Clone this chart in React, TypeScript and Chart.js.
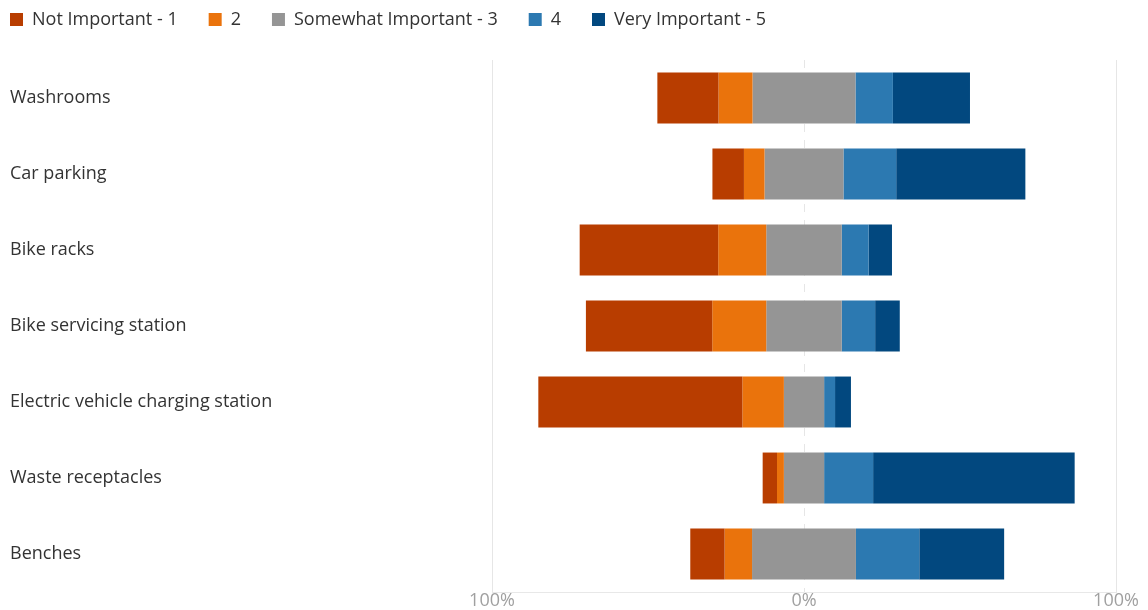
import React, { useEffect, useRef } from "react";
import { Chart, registerables } from "chart.js";

Chart.register(...registerables);

// Survey categories (top to bottom)
const categories = [
  "Washrooms",
  "Car parking",
  "Bike racks",
  "Bike servicing station",
  "Electric vehicle charging station",
  "Waste receptacles",
  "Benches",
];

// Share of responses (%) for each importance rating
const notImportant = [19.6, 10.1, 44.4, 40.5, 65.4, 4.6, 11.0];
const ratingTwo = [10.9, 6.6, 15.4, 17.3, 13.3, 2.2, 8.8];
const somewhatImportant = [33.0, 25.3, 24.2, 24.2, 12.9, 12.9, 33.3];
const ratingFour = [12.0, 16.9, 8.6, 10.7, 3.5, 15.7, 20.3];
const veryImportant = [24.7, 41.4, 7.5, 7.9, 5.1, 64.6, 27.2];

const seriesLabels = ["Not Important - 1", "2", "Somewhat Important - 3", "4", "Very Important - 5"];
const seriesColors = ["#B83D00", "#EA730C", "#959595", "#2C79B1", "#02487F"];

const xTicks = [-100, 0, 100];

const FONT = "'Open Sans', 'Noto Sans', sans-serif";
const LEGEND_PAD = 31;

// Keeps the legend as a fixed-height strip at the top-left of the canvas.
const legendPlacement = {
  id: "legendPlacement",
  beforeLayout(chart: any) {
    const lg = chart.legend;
    if (lg && !lg._fixedFit) {
      const fit = lg.fit.bind(lg);
      lg.fit = function () {
        fit();
        this.height = 60;
      };
      lg._fixedFit = true;
    }
  },
  afterLayout(chart: any) {
    const lg = chart.legend;
    if (!lg) return;
    lg.left = 10 - LEGEND_PAD;
    lg.top = 10.5 - LEGEND_PAD;
  },
};

// Diverging segments: the neutral rating is centred on zero, lower ratings
// extend to the left of it and higher ratings to the right.
function divergingRanges(): [number, number][][] {
  const one: [number, number][] = [];
  const two: [number, number][] = [];
  const three: [number, number][] = [];
  const four: [number, number][] = [];
  const five: [number, number][] = [];
  categories.forEach((_, i) => {
    const half = somewhatImportant[i] / 2;
    two.push([-half - ratingTwo[i], -half]);
    one.push([-half - ratingTwo[i] - notImportant[i], -half - ratingTwo[i]]);
    three.push([-half, half]);
    four.push([half, half + ratingFour[i]]);
    five.push([half + ratingFour[i], half + ratingFour[i] + veryImportant[i]]);
  });
  return [one, two, three, four, five];
}

export default function App() {
  const canvasRef = useRef<HTMLCanvasElement | null>(null);

  useEffect(() => {
    if (!canvasRef.current) return;

    const ranges = divergingRanges();
    const datasets = seriesLabels.map((label, k) => ({
      label,
      data: ranges[k],
      backgroundColor: seriesColors[k],
      borderWidth: 0,
      grouped: false,
      barPercentage: 0.67,
      categoryPercentage: 1,
    }));

    const chart = new Chart(canvasRef.current, {
      type: "bar",
      data: { labels: categories, datasets: datasets as any },
      plugins: [legendPlacement],
      options: {
        indexAxis: "y",
        animation: false,
        responsive: false,
        layout: { padding: { left: 10, right: 32, top: 0, bottom: 0 } },
        plugins: {
          tooltip: { enabled: false },
          legend: {
            position: "top",
            align: "start",
            labels: {
              boxWidth: 13,
              boxHeight: 13,
              padding: LEGEND_PAD,
              color: "#333333",
              font: { family: FONT, size: 18 },
            },
          },
        },
        scales: {
          x: {
            type: "linear",
            min: -100,
            max: 100,
            afterBuildTicks: (scale: any) => {
              scale.ticks = xTicks.map((v) => ({ value: v }));
            },
            ticks: {
              color: "#a0a0a0",
              padding: 0,
              font: { family: FONT, size: 18, lineHeight: 1 },
              callback: (v: any) => Math.abs(Number(v)) + "%",
            },
            grid: {
              drawTicks: false,
              color: "#e6e6e6",
              lineWidth: 1,
            },
            border: {
              display: true,
              color: "#e8e8e8",
              dash: (ctx: any) => (ctx.tick && ctx.tick.value === 0 ? [8, 8] : []),
            } as any,
          },
          y: {
            afterFit: (scale: any) => {
              scale.width = 482;
            },
            ticks: {
              crossAlign: "far",
              color: "#333333",
              padding: 0,
              font: { family: FONT, size: 18 },
            },
            grid: { display: false, drawTicks: false },
            border: { display: false },
          },
        },
      } as any,
    });

    return () => chart.destroy();
  }, []);

  return (
    <div style={{ position: "fixed", left: 0, top: 0, width: 1148, height: 610, background: "#fff" }}>
      <canvas ref={canvasRef} width={1148} height={610} style={{ display: "block" }} />
    </div>
  );
}
